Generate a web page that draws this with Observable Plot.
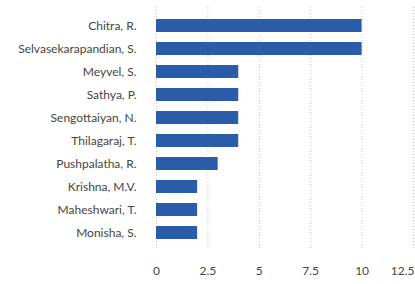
<!DOCTYPE html>
<html>
<head>
<meta charset="utf-8">
<script src="https://cdn.jsdelivr.net/npm/d3@7"></script>
<script src="https://cdn.jsdelivr.net/npm/@observablehq/plot@0.6"></script>
<style>
  html, body { margin: 0; padding: 0; background: #fff; }
  #chart svg { display: block; }
</style>
</head>
<body>
<div id="chart"></div>
<script>
const authors = ["Chitra, R.", "Selvasekarapandian, S.", "Meyvel, S.", "Sathya, P.", "Sengottaiyan, N.", "Thilagaraj, T.", "Pushpalatha, R.", "Krishna, M.V.", "Maheshwari, T.", "Monisha, S."];
const counts = [10, 10, 4, 4, 4, 4, 3, 2, 2, 2];
const xTicks = [0, 2.5, 5, 7.5, 10, 12.5];

const data = authors.map((a, i) => ({author: a, count: counts[i]}));
const fmt = d => String(d);

const chart = Plot.plot({
  width: 415,
  height: 284,
  marginLeft: 156,
  marginRight: 2,
  marginTop: 7,
  marginBottom: 34,
  style: {fontFamily: "Lato, sans-serif", fontSize: "12px", color: "#444", background: "#fff"},
  x: {domain: [0, 12.5]},
  y: {domain: authors, padding: 0.44},
  marks: [
    Plot.gridX(xTicks, {stroke: "#c4c4c4", strokeOpacity: 1, strokeDasharray: "1,2"}),
    Plot.barX(data, {x: "count", y: "author", fill: "#2a5caa"}),
    Plot.axisY({tickSize: 0, tickPadding: 20, label: null, fontSize: 12}),
    Plot.axisX(xTicks.slice(0, -1), {tickSize: 0, tickPadding: 16, label: null, fontSize: 12, tickFormat: fmt}),
    Plot.axisX(xTicks.slice(-1), {tickSize: 0, tickPadding: 16, label: null, fontSize: 12, tickFormat: fmt, textAnchor: "end", dx: 1})
  ]
});
document.getElementById("chart").appendChild(chart);
</script>
</body>
</html>
